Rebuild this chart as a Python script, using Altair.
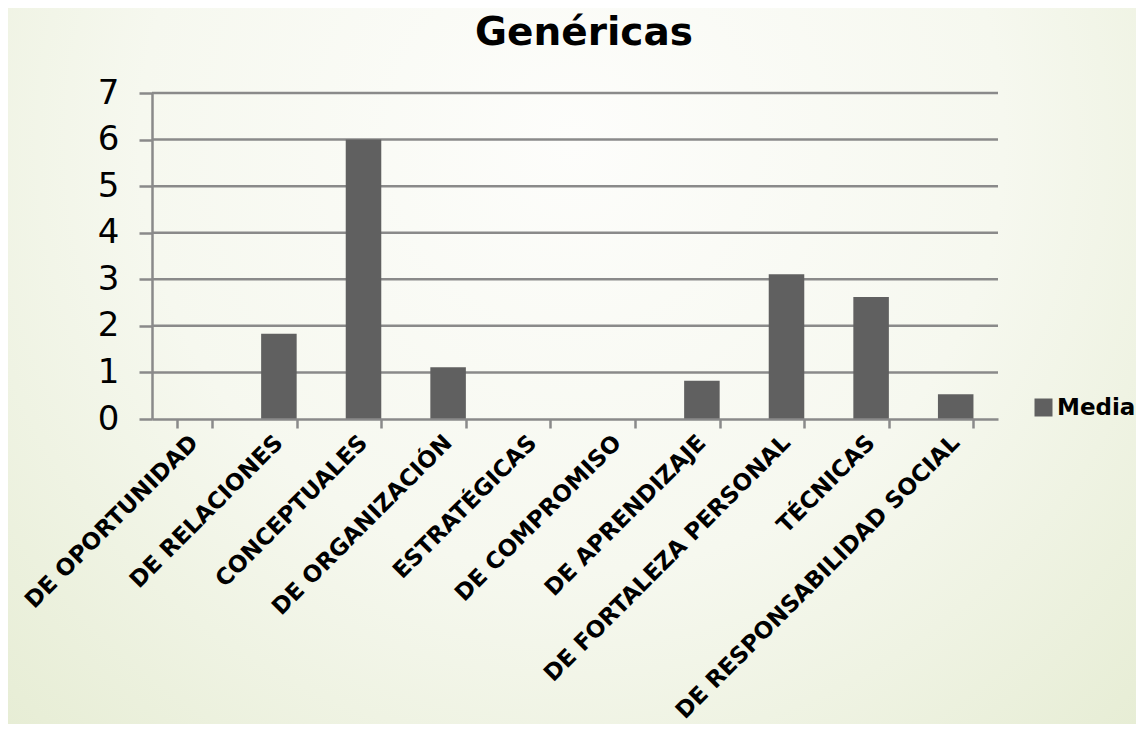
import altair as alt
import pandas as pd

categories = [
    "DE OPORTUNIDAD",
    "DE RELACIONES",
    "CONCEPTUALES",
    "DE ORGANIZACIÓN",
    "ESTRATÉGICAS",
    "DE COMPROMISO",
    "DE APRENDIZAJE",
    "DE FORTALEZA PERSONAL",
    "TÉCNICAS",
    "DE RESPONSABILIDAD SOCIAL",
]
media = [0, 1.83, 6.0, 1.11, 0, 0, 0.82, 3.11, 2.62, 0.53]
series_name = "Media"
y_ticks = [0, 1, 2, 3, 4, 5, 6, 7]
grid_values = [1, 2, 3, 4, 5, 6, 7]
title_text = "Genéricas"

df = pd.DataFrame({"cat": categories, "value": media, "serie": [series_name] * len(categories)})
grid_df = pd.DataFrame({"v": grid_values})

W, H = 846, 326
PAD = {"left": 144, "top": 85, "right": 138, "bottom": 305}
GRID = "#8a8a8a"
FONT = "DejaVu Sans"

yscale = alt.Scale(domain=[0, 7], nice=False, zero=True)

bg = alt.Chart(alt.Data(values=[{"k": 1}])).mark_rect(
    fill={
        "gradient": "radial",
        "x1": 0.5, "y1": 0.3, "r1": 0,
        "x2": 0.5, "y2": 0.3, "r2": 0.85,
        "stops": [
            {"offset": 0, "color": "#fdfdfb"},
            {"offset": 0.45, "color": "#f6f8ef"},
            {"offset": 1, "color": "#e1e9cb"},
        ],
    }
).encode(
    x=alt.value(-PAD["left"]),
    x2=alt.value(W + PAD["right"]),
    y=alt.value(-PAD["top"]),
    y2=alt.value(H + PAD["bottom"]),
)

grid = alt.Chart(grid_df).mark_rule(color=GRID, strokeWidth=2.5).encode(
    y=alt.Y("v:Q", scale=yscale, title=None,
            axis=alt.Axis(values=y_ticks, grid=False, title=None))
)

bars = alt.Chart(df).mark_bar(color="#606060").encode(
    x=alt.X(
        "cat:N",
        sort=categories,
        title=None,
        scale=alt.Scale(paddingInner=0.58, paddingOuter=0.29),
        axis=alt.Axis(
            labelAngle=-45,
            labelFont=FONT,
            labelFontWeight="bold",
            labelFontSize=23,
            labelColor="#000000",
            labelPadding=3,
            labelOffset=-8,
            labelLimit=500,
            tickBand="extent",
            tickSize=9,
            tickWidth=2.5,
            tickColor=GRID,
            domainColor=GRID,
            domainWidth=2.5,
            zindex=1,
        ),
    ),
    y=alt.Y(
        "value:Q",
        scale=yscale,
        title=None,
        axis=alt.Axis(
            values=y_ticks,
            grid=False,
            labelFont=FONT,
            labelFontSize=34,
            labelColor="#000000",
            labelPadding=20,
            tickSize=13,
            tickWidth=2.5,
            tickColor=GRID,
            domainColor=GRID,
            domainWidth=2.5,
            zindex=1,
        ),
    ),
    fill=alt.Fill(
        "serie:N",
        scale=alt.Scale(domain=[series_name], range=["#606060"]),
        legend=alt.Legend(
            title=None,
            orient="none",
            legendX=880,
            legendY=303,
            symbolType="square",
            symbolSize=324,
            symbolStrokeWidth=0,
            labelFont=FONT,
            labelFontWeight="bold",
            labelFontSize=23,
            labelColor="#000000",
            labelOffset=2,
            padding=0,
        ),
    ),
)

chart = alt.layer(bg, grid, bars).properties(
    width=W,
    height=H,
    padding=PAD,
    autosize=alt.AutoSizeParams(type="none"),
    title=alt.TitleParams(
        text=title_text,
        font=FONT,
        fontSize=39,
        fontWeight="bold",
        color="#000000",
        anchor="middle",
        dx=9,
        offset=-45,
    ),
).configure_view(stroke=None).configure(background="#eef2e2")

chart.save("out.html", embed_options={"renderer": "svg", "actions": False})
